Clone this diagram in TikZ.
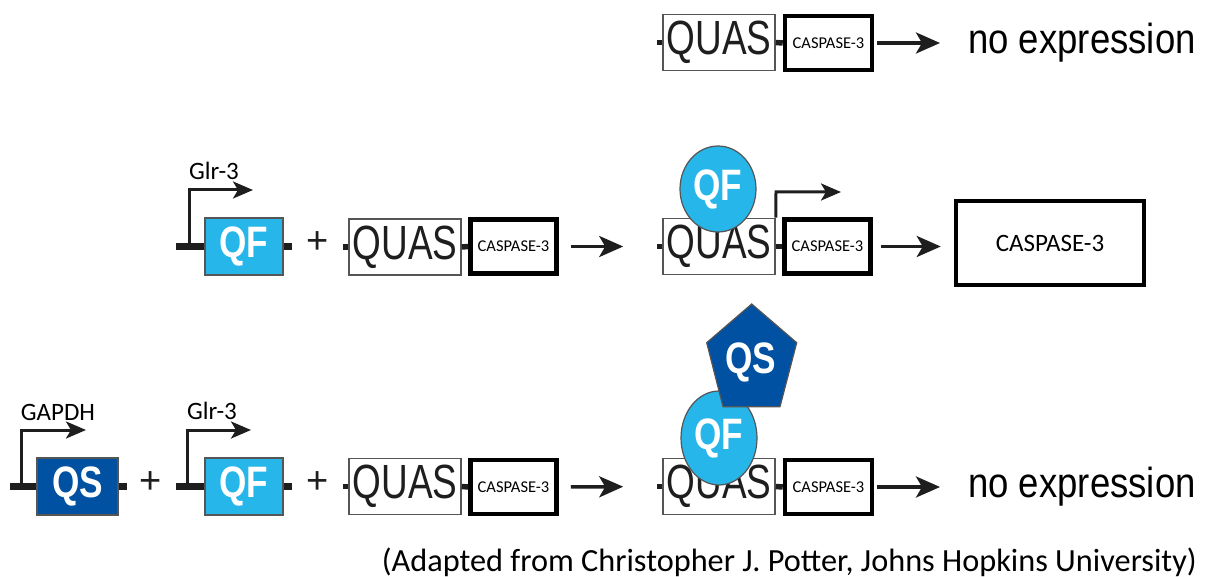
\documentclass[tikz,border=0pt]{standalone}
\usepackage{fontspec}
\usepackage{graphicx}
\setmainfont{Carlito}
\newfontfamily\arialf{Liberation Sans}
\usetikzlibrary{arrows.meta,shapes.geometric}
\definecolor{qfblue}{HTML}{27B6EA}
\definecolor{qsblue}{HTML}{0051A2}
\definecolor{boxgray}{HTML}{555555}
\definecolor{ink}{HTML}{1E1E1E}
\newcommand{\quastext}{{\arialf\fontsize{48}{48}\selectfont\raisebox{-2pt}{\scalebox{0.77}[1]{QUAS}}}}
\newcommand{\qftext}{{\arialf\bfseries\fontsize{44}{44}\selectfont\scalebox{0.8}[1]{QF}}}
\newcommand{\qstext}{{\arialf\bfseries\fontsize{44}{44}\selectfont\scalebox{0.8}[1]{QS}}}
\newcommand{\noexpr}{{\arialf\fontsize{42}{42}\selectfont\scalebox{0.87}[1]{no expression}}}
\begin{document}
\begin{tikzpicture}[x=1pt,y=-1pt,
  quas/.style={draw=boxgray, line width=1.6pt, fill=white, minimum width=112pt, minimum height=56pt, inner sep=0pt, text=ink},
  casp/.style={draw=black, line width=4.5pt, fill=white, minimum width=86pt, minimum height=54pt, inner sep=0pt, font=\fontsize{16.5}{16.5}\selectfont},
  qfbox/.style={draw=boxgray, line width=1.2pt, fill=qfblue, minimum width=78pt, minimum height=57pt, inner sep=0pt, text=white},
  qsbox/.style={draw=boxgray, line width=1.2pt, fill=qsblue, minimum width=81pt, minimum height=57pt, inner sep=0pt, text=white},
  bar/.style={draw=ink, line width=7.5pt},
  tick/.style={draw=ink, line width=5.5pt},
  prom/.style={draw=ink, line width=3pt, -{Stealth[length=20pt,width=17pt,inset=5pt]}},
  arr/.style={draw=ink, line width=3.5pt, -{Stealth[length=24pt,width=21pt,inset=6pt]}},
  plus/.style={font=\arialf\fontsize{38}{38}\selectfont, text=ink, inner sep=0pt},
  lbl/.style={font=\fontsize{25}{25}\selectfont, text=black, inner sep=0pt},
  qfell/.style={draw=boxgray, line width=1.2pt, fill=qfblue, text=white}
]
\useasboundingbox (0,0) rectangle (1207,577);

% ---------------- Row 1 ----------------
\node[quas] (q0) at (719,42.5) {\quastext};
\node[casp, minimum width=87pt] (c0) at (828.5,43) {CASPASE-3};
\node[inner sep=0pt, anchor=west] (ne0) at (968,43) {\noexpr};
\coordinate (t0) at (657,42.5);
\draw[tick] (t0) -- (q0.west);
\draw[tick] (q0.east) -- (c0.west);
\draw[arr, shorten <=3pt, shorten >=28pt] (c0.east) -- (c0.east -| ne0.west);

% ---------------- Row 2 ----------------
\node[qfbox] (qf1) at (244,246.5) {\qftext};
\coordinate (b1a) at (176,246.5);
\coordinate (b1b) at (292,246.5);
\draw[bar] (b1a) -- (qf1.west);
\draw[bar] (qf1.east) -- (b1b);
\coordinate (p1a) at (189,246.5);
\coordinate (p1b) at (189,190);
\coordinate (p1c) at (253,190);
\draw[prom] (p1a) -- (p1b) -- (p1c);
\node[lbl] (g1) at (214,171) {Glr-3};
\node[plus] (pl1) at (318,243) {+};

\node[quas] (q1) at (405,247) {\quastext};
\node[casp] (c1) at (513.5,246.5) {CASPASE-3};
\coordinate (t1) at (343,247);
\draw[tick] (t1) -- (q1.west);
\draw[tick] (q1.east) -- (c1.west);

\node[quas] (q2) at (719,246.5) {\quastext};
\node[casp] (c2) at (827.5,246.5) {CASPASE-3};
\coordinate (t2) at (657,246.5);
\draw[tick] (t2) -- (q2.west);
\draw[tick] (q2.east) -- (c2.west);
\draw[arr, shorten <=12pt, shorten >=39pt] (c1.east) -- (q2.west);
\node[qfell, ellipse, minimum width=76pt, minimum height=86pt, inner sep=0pt] (qfe2) at (718,189) {\qftext};
\coordinate (p2b) at (776,192);
\coordinate (p2c) at (841,192);
\draw[prom] (q2.north east) -- (p2b) -- (p2c);

\node[draw=black, line width=4.5pt, minimum width=188pt, minimum height=84pt, inner sep=0pt, font=\fontsize{25}{25}\selectfont] (big) at (1050,243) {CASPASE-3};
\draw[arr, shorten <=8pt, shorten >=13pt] (c2.east) -- (c2.east -| big.west);

% ---------------- Row 3 ----------------
\node[qsbox] (qs3) at (77.5,486.5) {\qstext};
\coordinate (b3a) at (10,486.5);
\coordinate (b3b) at (127,486.5);
\draw[bar] (b3a) -- (qs3.west);
\draw[bar] (qs3.east) -- (b3b);
\coordinate (p3a) at (21,486.5);
\coordinate (p3b) at (21,430);
\coordinate (p3c) at (86,430);
\draw[prom] (p3a) -- (p3b) -- (p3c);
\node[lbl] (gap) at (58,412) {GAPDH};
\node[plus] (pl2) at (151,483) {+};

\node[qfbox] (qf3) at (244,486.5) {\qftext};
\coordinate (b4a) at (176,486.5);
\coordinate (b4b) at (292,486.5);
\draw[bar] (b4a) -- (qf3.west);
\draw[bar] (qf3.east) -- (b4b);
\coordinate (p4a) at (187,486.5);
\coordinate (p4b) at (187,430);
\coordinate (p4c) at (251,430);
\draw[prom] (p4a) -- (p4b) -- (p4c);
\node[lbl] (g3) at (212,411) {Glr-3};
\node[plus] (pl3) at (318,483) {+};

\node[quas] (q3) at (405,486.5) {\quastext};
\node[casp] (c3) at (513.5,487) {CASPASE-3};
\coordinate (t3) at (343,486.5);
\draw[tick] (t3) -- (q3.west);
\draw[tick] (q3.east) -- (c3.west);

\node[quas] (q4) at (719,486.5) {\quastext};
\node[casp, minimum width=87pt] (c4) at (828.5,487) {CASPASE-3};
\coordinate (t4) at (657,486.5);
\draw[tick] (t4) -- (q4.west);
\draw[tick] (q4.east) -- (c4.west);
\draw[arr, shorten <=12pt, shorten >=39pt] (c3.east) -- (q4.west);
\node[qfell, ellipse, minimum width=76pt, minimum height=94pt, inner sep=0pt] (qfe4) at (719,438) {\qftext};
\draw[draw=boxgray, line width=1.2pt, fill=qsblue] (751.7,304) -- (796.7,342.7) -- (780,406.7) -- (723,406.7) -- (706.7,342.7) -- cycle;
\node[text=white, inner sep=0pt] (qsp) at (751,362) {\qstext};

\node[inner sep=0pt, anchor=west] (ne4) at (968,487) {\noexpr};
\draw[arr, shorten <=3pt, shorten >=28pt] (c4.east) -- (c4.east -| ne4.west);

% ---------------- Caption ----------------
\node[anchor=east, inner sep=0pt, font=\fontsize{32.3}{32.3}\selectfont] (cap) at (1197,562) {(Adapted from Christopher J. Potter, Johns Hopkins University)};
\end{tikzpicture}
\end{document}
